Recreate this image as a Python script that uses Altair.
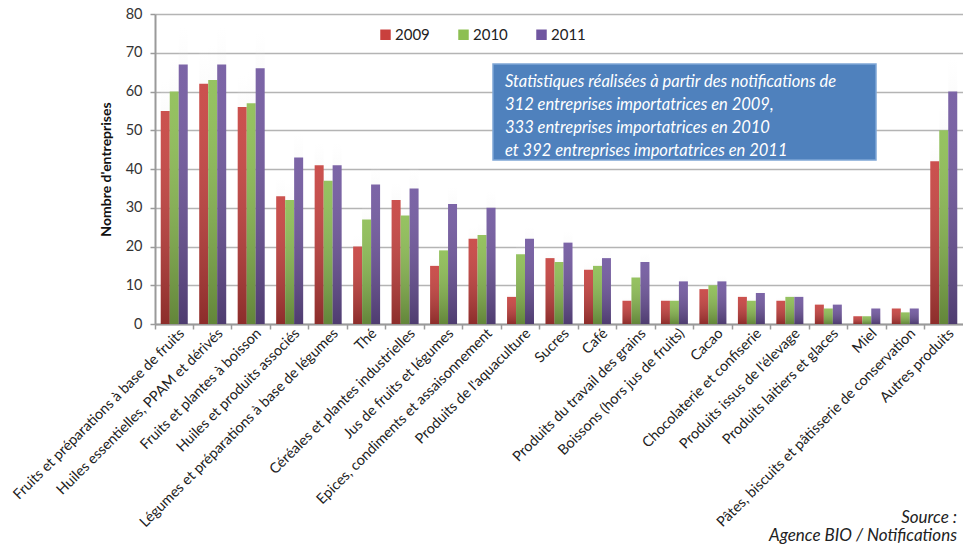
import altair as alt
import pandas as pd

categories = [
    "Fruits et préparations à base de fruits",
    "Huiles essentielles, PPAM et dérivés",
    "Fruits et plantes à boisson",
    "Huiles et produits associés",
    "Légumes et préparations à base de légumes",
    "Thé",
    "Céréales et plantes industrielles",
    "Jus de fruits et légumes",
    "Epices, condiments et assaisonnement",
    "Produits de l'aquaculture",
    "Sucres",
    "Café",
    "Produits du travail des grains",
    "Boissons (hors jus de fruits)",
    "Cacao",
    "Chocolaterie et confiserie",
    "Produits issus de l'élevage",
    "Produits laitiers et glaces",
    "Miel",
    "Pâtes, biscuits et pâtisserie de conservation",
    "Autres produits",
]
years = ["2009", "2010", "2011"]
v2009 = [55, 62, 56, 33, 41, 20, 32, 15, 22, 7, 17, 14, 6, 6, 9, 7, 6, 5, 2, 4, 42]
v2010 = [60, 63, 57, 32, 37, 27, 28, 19, 23, 18, 16, 15, 12, 6, 10, 6, 7, 4, 2, 3, 50]
v2011 = [67, 67, 66, 43, 41, 36, 35, 31, 30, 22, 21, 17, 16, 11, 11, 8, 7, 5, 4, 4, 60]
colors = ["#c9403d", "#8dbf52", "#7056a0"]
y_ticks = [0, 10, 20, 30, 40, 50, 60, 70, 80]

box_lines = [
    "Statistiques réalisées à partir des notifications de",
    "312 entreprises importatrices en 2009,",
    "333 entreprises importatrices en 2010",
    " et 392 entreprises importatrices en 2011",
]
source_lines = ["Source :", "Agence BIO / Notifications"]

rows = []
for i, c in enumerate(categories):
    for y, vals in zip(years, [v2009, v2010, v2011]):
        rows.append({"cat": c, "year": y, "value": vals[i]})
df = pd.DataFrame(rows)

FONT = "Lato"
W, H = 808, 310

x_enc = alt.X(
    "cat:N",
    sort=categories,
    scale=alt.Scale(paddingInner=0.3, paddingOuter=0.15),
    axis=alt.Axis(
        title=None,
        labelAngle=-45,
        labelAlign="right",
        labelBaseline="middle",
        labelFont=FONT,
        labelFontSize=14.4,
        labelColor="#222222",
        labelPadding=2,
        labelOffset=8,
        labelLimit=400,
        bandPosition=-0.214,
        tickSize=5,
        tickColor="#9a9a9a",
        tickWidth=1.5,
        domainColor="#9a9a9a",
        domainWidth=2,
        grid=False,
    ),
)
y_enc = alt.Y(
    "value:Q",
    scale=alt.Scale(domain=[0, 80], nice=False),
    axis=alt.Axis(
        title="Nombre d'entreprises",
        titleFont=FONT,
        titleFontSize=14,
        titleFontWeight="bold",
        titleColor="#111111",
        titlePadding=12,
        values=y_ticks,
        labelFont=FONT,
        labelFontSize=14.5,
        labelColor="#333333",
        labelPadding=8,
        tickSize=5,
        tickColor="#9a9a9a",
        tickWidth=1.5,
        domainColor="#9a9a9a",
        domainWidth=2,
        gridColor="#b4b4b4",
        gridWidth=1.5,
    ),
)
xoff = alt.XOffset("year:N", scale=alt.Scale(domain=years, paddingInner=0, paddingOuter=0))

bars = alt.Chart(df).mark_bar().encode(
    x=x_enc,
    y=y_enc,
    xOffset=xoff,
    color=alt.Color(
        "year:N",
        scale=alt.Scale(domain=years, range=colors),
        legend=alt.Legend(
            title=None,
            orient="none",
            direction="horizontal",
            legendX=223,
            legendY=13,
            symbolType="square",
            symbolSize=110,
            symbolStrokeWidth=0,
            labelFont=FONT,
            labelFontSize=15,
            labelColor="#222222",
            columnPadding=26,
            labelOffset=2,
        ),
    ),
)

shade = alt.Chart(df).mark_bar(
    color=alt.Gradient(
        gradient="linear",
        stops=[
            alt.GradientStop(color="rgba(255,255,255,0.08)", offset=0),
            alt.GradientStop(color="rgba(0,0,0,0.3)", offset=1),
        ],
        x1=0, x2=0, y1=0, y2=1,
    )
).encode(x=alt.X("cat:N", sort=categories), y="value:Q", xOffset=xoff)

box_df = pd.DataFrame({"t": [box_lines[0]]})
box = alt.Chart(box_df).mark_rect(
    fill="#4f81bd", stroke="#7fa6d6", strokeWidth=1.5
).encode(x=alt.value(338), x2=alt.value(721), y=alt.value(50), y2=alt.value(146))

box_text_df = pd.DataFrame({"t": box_lines, "i": list(range(len(box_lines)))})
box_text = alt.Chart(box_text_df).mark_text(
    align="left", baseline="middle", font=FONT, fontSize=16.5, fontStyle="italic", color="white"
).encode(
    x=alt.value(350),
    y=alt.Y("i:Q", scale=alt.Scale(domain=[0, 3], range=[68, 137]), axis=None),
    text="t:N",
)

src_style = dict(align="right", baseline="alphabetic", font=FONT, fontSize=17,
                 fontStyle="italic", color="#222222")
src1 = alt.Chart(pd.DataFrame({"t": [source_lines[0]]})).mark_text(**src_style).encode(
    x=alt.value(802), y=alt.value(509), text="t:N")
src2 = alt.Chart(pd.DataFrame({"t": [source_lines[1]]})).mark_text(**src_style).encode(
    x=alt.value(802), y=alt.value(527), text="t:N")

chart = alt.layer(bars, shade, box, box_text, src1, src2).resolve_scale(y="independent").properties(
    width=W,
    height=H,
    autosize="none",
    padding={"left": 147, "top": 6, "right": 0, "bottom": 221},
).configure_view(stroke=None)

chart.save("out.html", embed_options={"renderer": "svg", "actions": False})
